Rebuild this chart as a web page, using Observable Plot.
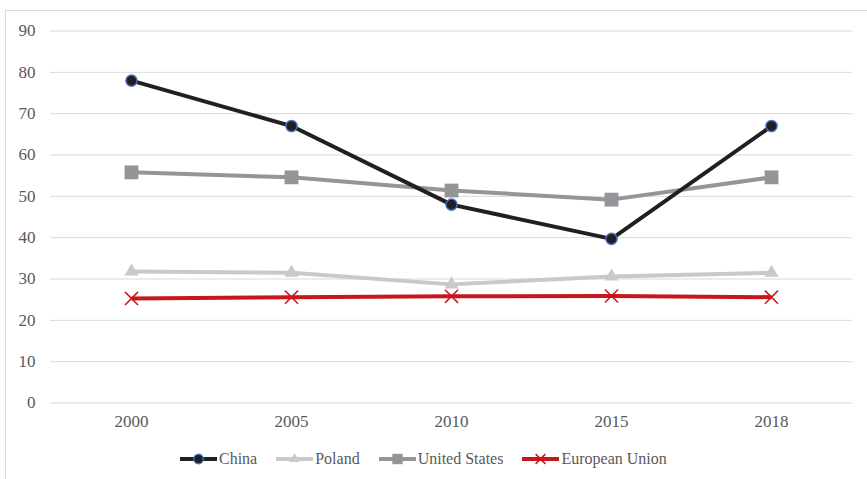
<!DOCTYPE html>
<html>
<head>
<meta charset="utf-8">
<script src="https://cdn.jsdelivr.net/npm/d3@7"></script>
<script src="https://cdn.jsdelivr.net/npm/@observablehq/plot@0.6"></script>
<style>
  html, body { margin: 0; padding: 0; background: #fff; }
  #wrap { position: relative; width: 867px; height: 479px; overflow: hidden; font-family: "Liberation Serif", "Times New Roman", serif; }
  #frame { position: absolute; left: 5px; top: 10px; width: 900px; height: 500px; border-left: 1px solid #d9d9d9; border-top: 1px solid #d9d9d9; }
  #chart { position: absolute; left: 0; top: 0; }
  #legend { position: absolute; left: 180px; top: 447px; height: 24px; display: flex; align-items: center; font-size: 16px; color: #595959; white-space: nowrap; }
  .item { display: flex; align-items: center; margin-right: 19px; }
  .item svg { display: block; margin-right: 2px; }
</style>
</head>
<body>
<div id="wrap">
  <div id="frame"></div>
  <div id="chart"></div>
  <div id="legend"></div>
</div>
<script>
const years = ["2000", "2005", "2010", "2015", "2018"];
const yTicks = [0, 10, 20, 30, 40, 50, 60, 70, 80, 90];

const china = [78, 67, 48, 39.7, 67];
const poland = [31.8, 31.5, 28.7, 30.6, 31.5];
const unitedStates = [55.8, 54.6, 51.4, 49.2, 54.6];
const europeanUnion = [25.3, 25.6, 25.8, 25.9, 25.6];

const seriesNames = ["China", "Poland", "United States", "European Union"];
const seriesValues = [china, poland, unitedStates, europeanUnion];

const styles = {
  "China": { color: "#231f20", symbol: "circle", r: 5.6, fill: "#231f20", stroke: "#4472c4", sw: 1.4 },
  "Poland": { color: "#c8c9cb", symbol: "triangle", r: 5.2, fill: "#c8c9cb", stroke: "none", sw: 0 },
  "United States": { color: "#939598", symbol: "square", r: 7.8, fill: "#939598", stroke: "none", sw: 0 },
  "European Union": { color: "#c8161d", symbol: "times", r: 6, fill: "none", stroke: "#c8161d", sw: 1.5 }
};

const data = seriesNames.flatMap((name, i) =>
  years.map((year, j) => ({ series: name, year, value: seriesValues[i][j] }))
);

const marks = [
  Plot.gridY(yTicks, { stroke: "#d9d9d9", strokeOpacity: 1, strokeWidth: 1 }),
  Plot.axisY(yTicks, { tickSize: 0, tickPadding: 15, fontSize: 17, fill: "#595959", fontFamily: "Liberation Serif", label: null }),
  Plot.axisX({ tickSize: 0, tickPadding: 12, fontSize: 17, fill: "#595959", fontFamily: "Liberation Serif", label: null })
];

for (const name of ["European Union", "Poland", "United States", "China"]) {
  const s = styles[name];
  const d = data.filter(d => d.series === name);
  marks.push(Plot.line(d, { x: "year", y: "value", stroke: s.color, strokeWidth: 4, strokeLinejoin: "round", strokeLinecap: "butt" }));
}
for (const name of ["European Union", "Poland", "United States", "China"]) {
  const s = styles[name];
  const d = data.filter(d => d.series === name);
  marks.push(Plot.dot(d, { x: "year", y: "value", symbol: () => s.symbol, r: s.r, fill: s.fill, stroke: s.stroke, strokeWidth: s.sw }));
}

const chart = Plot.plot({
  width: 867,
  height: 440,
  marginLeft: 50,
  marginRight: 15,
  marginTop: 30.5,
  marginBottom: 37.5,
  style: { fontFamily: "Liberation Serif", background: "transparent", overflow: "visible" },
  x: { type: "point", domain: years, padding: 0.5, label: null },
  y: { domain: [0, 90], label: null },
  symbol: { type: "identity" },
  marks
});
document.getElementById("chart").appendChild(chart);

// Legend
const legend = document.getElementById("legend");
for (const name of seriesNames) {
  const s = styles[name];
  const item = document.createElement("div");
  item.className = "item";
  const svg = d3.create("svg").attr("width", 37).attr("height", 16);
  svg.append("line").attr("x1", 0).attr("x2", 37).attr("y1", 8).attr("y2", 8)
    .attr("stroke", s.color).attr("stroke-width", 4);
  const sym = { circle: d3.symbolCircle, triangle: d3.symbolTriangle, square: d3.symbolSquare, times: d3.symbolTimes }[s.symbol];
  const scale = name === "China" ? 0.85 : 0.75;
  svg.append("path")
    .attr("d", d3.symbol(sym, Math.PI * (s.r * scale) ** 2)())
    .attr("transform", "translate(18.5,8)")
    .attr("fill", s.fill).attr("stroke", s.stroke).attr("stroke-width", s.sw);
  item.appendChild(svg.node());
  const t = document.createElement("span");
  t.textContent = name;
  item.appendChild(t);
  legend.appendChild(item);
}
</script>
</body>
</html>
